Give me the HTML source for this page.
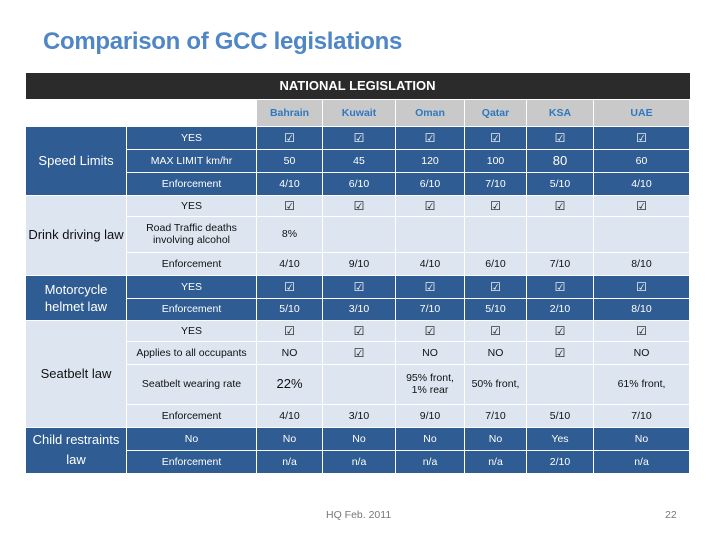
<!DOCTYPE html>
<html><head><meta charset="utf-8"><style>
body{margin:0;width:720px;height:540px;background:#fff;position:relative;font-family:"Liberation Sans",sans-serif;overflow:hidden}
.title{position:absolute;left:43px;top:28px;font-size:24px;font-weight:bold;color:#4f86c6;letter-spacing:-0.3px}
table{position:absolute;left:25px;top:73px;border-collapse:collapse;table-layout:fixed;width:664px}
td{border:1px solid #fff;text-align:center;font-size:10.5px;padding:0;line-height:12px}
.nh td{background:#2b2b2b;color:#fff;font-weight:bold;font-size:13px;border:none}
.ch td.c{background:#c9c9c9;color:#2f78c0;font-weight:bold;font-size:10.5px}
.d td{background:#2f5c92;color:#fff}
.l td{background:#dce5f0;color:#111}
td.g{font-size:13px}
.d td.g,.l td.g{font-size:13px}
.ck{font-size:12px}
.f{position:absolute;top:509px;font-size:10.5px;color:#777}
</style></head><body>
<div class="title">Comparison of GCC legislations</div>
<table>
<colgroup><col style="width:101px"><col style="width:130px"><col style="width:66px"><col style="width:73px"><col style="width:69px"><col style="width:62px"><col style="width:67px"><col style="width:96px"></colgroup>
<tr class="nh" style="height:26px"><td colspan="8">NATIONAL LEGISLATION</td></tr>
<tr class="ch" style="height:27px"><td colspan="2" style="border:none"></td><td class="c">Bahrain</td><td class="c">Kuwait</td><td class="c">Oman</td><td class="c">Qatar</td><td class="c">KSA</td><td class="c">UAE</td></tr>
<tr class="d" style="height:23px"><td rowspan="3" class="g">Speed Limits</td><td>YES</td><td class="ck">☑</td><td class="ck">☑</td><td class="ck">☑</td><td class="ck">☑</td><td class="ck">☑</td><td class="ck">☑</td></tr>
<tr class="d" style="height:23px"><td>MAX LIMIT km/hr</td><td>50</td><td>45</td><td>120</td><td>100</td><td style="font-size:13px">80</td><td>60</td></tr>
<tr class="d" style="height:23px"><td>Enforcement</td><td>4/10</td><td>6/10</td><td>6/10</td><td>7/10</td><td>5/10</td><td>4/10</td></tr>
<tr class="l" style="height:21px"><td rowspan="3" class="g">Drink driving law</td><td>YES</td><td class="ck">☑</td><td class="ck">☑</td><td class="ck">☑</td><td class="ck">☑</td><td class="ck">☑</td><td class="ck">☑</td></tr>
<tr class="l" style="height:36px"><td>Road Traffic deaths<br>involving alcohol</td><td>8%</td><td></td><td></td><td></td><td></td><td></td></tr>
<tr class="l" style="height:23px"><td>Enforcement</td><td>4/10</td><td>9/10</td><td>4/10</td><td>6/10</td><td>7/10</td><td>8/10</td></tr>
<tr class="d" style="height:23px"><td rowspan="2" class="g" style="line-height:17px">Motorcycle<br>helmet law</td><td>YES</td><td class="ck">☑</td><td class="ck">☑</td><td class="ck">☑</td><td class="ck">☑</td><td class="ck">☑</td><td class="ck">☑</td></tr>
<tr class="d" style="height:22px"><td>Enforcement</td><td>5/10</td><td>3/10</td><td>7/10</td><td>5/10</td><td>2/10</td><td>8/10</td></tr>
<tr class="l" style="height:21px"><td rowspan="4" class="g">Seatbelt law</td><td>YES</td><td class="ck">☑</td><td class="ck">☑</td><td class="ck">☑</td><td class="ck">☑</td><td class="ck">☑</td><td class="ck">☑</td></tr>
<tr class="l" style="height:23px"><td>Applies to all occupants</td><td>NO</td><td class="ck">☑</td><td>NO</td><td>NO</td><td class="ck">☑</td><td>NO</td></tr>
<tr class="l" style="height:40px"><td>Seatbelt wearing rate</td><td style="font-size:13px">22%</td><td></td><td>95% front,<br>1% rear</td><td>50% front,</td><td></td><td>61% front,</td></tr>
<tr class="l" style="height:23px"><td>Enforcement</td><td>4/10</td><td>3/10</td><td>9/10</td><td>7/10</td><td>5/10</td><td>7/10</td></tr>
<tr class="d" style="height:23px"><td rowspan="2" class="g" style="line-height:20px">Child restraints<br>law</td><td>No</td><td>No</td><td>No</td><td>No</td><td>No</td><td>Yes</td><td>No</td></tr>
<tr class="d" style="height:23px"><td>Enforcement</td><td>n/a</td><td>n/a</td><td>n/a</td><td>n/a</td><td>2/10</td><td>n/a</td></tr>
</table>
<div class="f" style="left:326px">HQ Feb. 2011</div>
<div class="f" style="left:665px">22</div>
</body></html>
